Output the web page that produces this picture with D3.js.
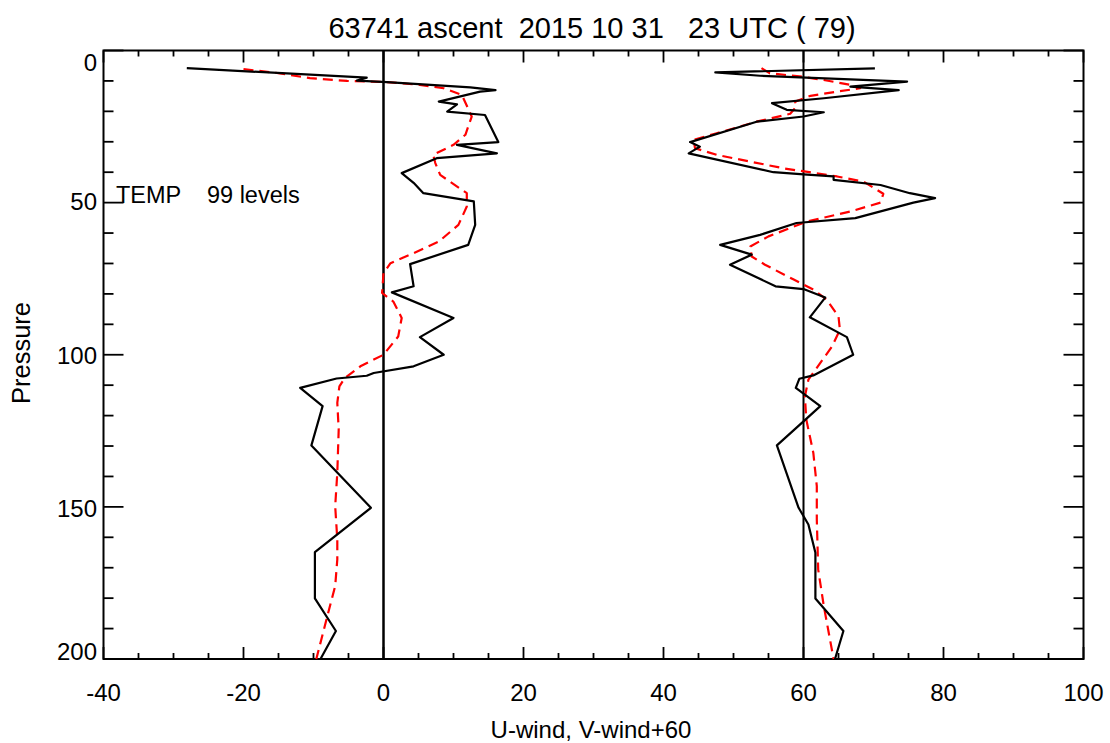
<!DOCTYPE html>
<html>
<head>
<meta charset="utf-8">
<script src="https://cdn.jsdelivr.net/npm/d3@7"></script>
<style>
  html, body { margin: 0; padding: 0; background: #fff; }
  svg { display: block; }
  text { font-family: "Liberation Sans", Arial, Helvetica, sans-serif; fill: #000; }
</style>
</head>
<body>
<script>
// Sounding 63741, 2015-10-31 23 UTC: wind profiles against pressure level index

// U-wind observed (pressure, m/s)
const uLevels = [5.8, 8.9, 9.9, 10.4, 12.1, 13.0, 13.5, 16.8, 17.7, 20.1, 21.2, 30.1, 31.0, 33.8, 35.4,
  40.3, 43.5, 46.9, 49.6, 57.3, 63.9, 70.2, 77.5, 79.5, 87.9, 94.2, 100.0, 103.8, 106.0, 106.9, 107.8,
  110.9, 116.9, 129.8, 150.3, 164.9, 180.1, 190.8, 200.0];
const uWind = [-28.1, -2.4, -3.8, 0.5, 12.4, 16.0, 13.8, 7.9, 10.5, 9.1, 14.5, 16.4, 10.5, 16.2, 7.6,
  2.6, 4.3, 5.7, 12.9, 13.1, 12.1, 3.8, 4.3, 1.2, 10.0, 5.2, 8.6, 4.3, -1.4, -2.4, -6.7,
  -11.9, -8.7, -10.3, -1.8, -9.8, -9.8, -6.8, -9.0];

// U-wind smoothed
const uSmoothLevels = [6.1, 7.5, 9.1, 10.0, 10.4, 11.3, 12.4, 14.6, 21.7, 27.7, 31.0, 34.3, 37.0, 40.9,
  46.9, 51.3, 57.3, 62.8, 66.6, 69.9, 73.2, 79.7, 82.5, 87.9, 94.0, 100.0, 103.8, 107.6, 110.4, 115.8,
  124.6, 138.8, 149.8, 160.7, 167.3, 176.0, 184.8, 200.0];
const uSmooth = [-20.0, -14.8, -10.5, -5.2, 0.5, 5.2, 8.6, 11.2, 12.6, 11.7, 10.0, 7.1, 7.4, 8.1,
  11.9, 11.9, 10.7, 7.9, 4.3, 1.0, 0.0, -0.2, 1.4, 2.6, 2.1, 0.0, -3.3, -5.5, -6.3, -6.6,
  -6.4, -6.6, -6.9, -6.6, -6.6, -6.9, -7.9, -9.6];

// V-wind observed (pressure, m/s); drawn shifted by +60
const vLevels = [5.9, 7.2, 8.3, 10.2, 11.9, 13.0, 15.7, 17.3, 19.5, 20.3, 21.7, 23.4, 30.1, 31.6, 33.8,
  40.0, 40.7, 41.4, 42.5, 44.2, 46.9, 48.5, 50.0, 55.1, 56.7, 60.6, 63.9, 67.1, 70.4, 77.5, 78.4, 81.2,
  87.7, 94.2, 100.0, 106.8, 107.9, 110.9, 116.9, 121.9, 129.8, 150.3, 155.8, 165.1, 180.1, 190.8, 200.0];
const vWind = [10.2, -12.6, -6.2, 14.8, 6.7, 13.6, 2.9, -4.5, -2.4, 2.9, 0.0, -6.7, -16.2, -14.8, -16.4,
  -4.3, 0.0, 4.3, 4.3, 11.0, 15.2, 18.8, 15.7, 7.4, -1.0, -6.2, -11.9, -7.4, -10.5, -4.0, 0.0, 3.1,
  0.9, 6.2, 7.1, 1.4, -0.6, -1.1, 2.4, 0.0, -3.8, -0.7, 0.7, 1.7, 1.7, 5.7, 4.5];

// V-wind smoothed
const vSmoothLevels = [5.8, 7.5, 8.6, 9.7, 11.3, 12.4, 13.5, 14.9, 16.8, 18.4, 20.8, 23.4, 27.2, 29.4,
  32.1, 34.3, 38.7, 41.4, 43.1, 47.1, 50.0, 52.9, 56.2, 61.1, 64.4, 67.7, 70.4, 75.3, 78.6, 81.9,
  87.4, 91.8, 97.2, 104.3, 108.2, 113.7, 121.3, 132.2, 143.2, 154.1, 170.6, 182.6, 200.0];
const vSmooth = [-6.0, -4.8, -0.2, 2.9, 6.7, 8.1, 4.8, 1.0, -1.2, -1.0, -1.9, -6.7, -12.4, -15.7,
  -15.5, -12.4, -2.9, 4.8, 8.6, 11.4, 11.0, 6.7, 0.5, -5.0, -7.6, -7.4, -5.5, -1.4, 1.4, 3.3,
  5.0, 5.2, 4.1, 1.9, 0.7, 0.2, 0.4, 1.4, 1.9, 1.9, 2.1, 2.9, 4.3];

const vOffset = 60;

const xTicks = [-40, -20, 0, 20, 40, 60, 80, 100];
const yTicks = [0, 50, 100, 150, 200];

const titleText = "63741 ascent  2015 10 31   23 UTC ( 79)";
const xTitle = "U-wind, V-wind+60";
const yTitle = "Pressure";
const noteText = "TEMP    99 levels";

(function draw() {
  const W = 1110, H = 743;
  const pl = 103.5, pr = 1083.5, pt = 50.5, pb = 659;

  const svg = d3.select("body").append("svg")
    .attr("width", W).attr("height", H);

  const x = d3.scaleLinear().domain([-40, 100]).range([pl, pr]);
  const y = d3.scaleLinear().domain([0, 200]).range([pt, pb]);

  // Ticks on all four sides, pointing inward
  const axes = svg.append("g").attr("stroke", "#000").attr("stroke-width", 1.8);
  d3.range(-40, 100.1, 5).forEach(v => {
    const len = v % 20 === 0 ? 12 : 6;
    axes.append("line").attr("x1", x(v)).attr("x2", x(v)).attr("y1", pb).attr("y2", pb - len);
    axes.append("line").attr("x1", x(v)).attr("x2", x(v)).attr("y1", pt).attr("y2", pt + len);
  });
  d3.range(0, 200.1, 10).forEach(v => {
    const len = v % 50 === 0 ? 20 : 10;
    axes.append("line").attr("y1", y(v)).attr("y2", y(v)).attr("x1", pl).attr("x2", pl + len);
    axes.append("line").attr("y1", y(v)).attr("y2", y(v)).attr("x1", pr).attr("x2", pr - len);
  });

  // Frame
  svg.append("rect")
    .attr("x", pl).attr("y", pt)
    .attr("width", pr - pl).attr("height", pb - pt)
    .attr("fill", "none").attr("stroke", "#000").attr("stroke-width", 2);

  // Tick labels
  svg.append("g").selectAll("text").data(xTicks).join("text")
    .attr("x", d => x(d)).attr("y", 701)
    .attr("text-anchor", "middle").attr("font-size", 24)
    .text(d => d);

  const yLabelPos = { 0: 70.5, 50: 209.5, 100: 363.5, 150: 516.5, 200: 659.5 };
  svg.append("g").selectAll("text").data(yTicks).join("text")
    .attr("x", 97).attr("y", d => yLabelPos[d])
    .attr("text-anchor", "end").attr("font-size", 24)
    .text(d => d);

  // Titles
  svg.append("text").attr("x", 592).attr("y", 38)
    .attr("text-anchor", "middle").attr("font-size", 29)
    .style("white-space", "pre").text(titleText);
  svg.append("text").attr("x", 591).attr("y", 737.5)
    .attr("text-anchor", "middle").attr("font-size", 24)
    .text(xTitle);
  svg.append("text").attr("transform", "translate(30,353) rotate(-90)")
    .attr("text-anchor", "middle").attr("font-size", 25.5)
    .text(yTitle);
  svg.append("text").attr("x", 116).attr("y", 203)
    .attr("font-size", 23.5).style("white-space", "pre")
    .text(noteText);

  // Reference verticals at U=0 and V+60=60
  svg.append("line").attr("x1", x(0)).attr("x2", x(0)).attr("y1", pt).attr("y2", pb)
    .attr("stroke", "#000").attr("stroke-width", 2.5);
  svg.append("line").attr("x1", x(vOffset)).attr("x2", x(vOffset)).attr("y1", pt).attr("y2", pb)
    .attr("stroke", "#000").attr("stroke-width", 2);

  const line = d3.line().x(d => x(d[0])).y(d => y(d[1]));
  const zip = (vals, levs, off) => vals.map((v, i) => [v + off, levs[i]]);

  const plot = svg.append("g").attr("fill", "none").attr("stroke-linejoin", "round");

  plot.append("path").attr("d", line(zip(uSmooth, uSmoothLevels, 0)))
    .attr("stroke", "#ff0000").attr("stroke-width", 2.2).attr("stroke-dasharray", "10,6");
  plot.append("path").attr("d", line(zip(vSmooth, vSmoothLevels, vOffset)))
    .attr("stroke", "#ff0000").attr("stroke-width", 2.2).attr("stroke-dasharray", "10,6");
  plot.append("path").attr("d", line(zip(uWind, uLevels, 0)))
    .attr("stroke", "#000").attr("stroke-width", 2.2);
  plot.append("path").attr("d", line(zip(vWind, vLevels, vOffset)))
    .attr("stroke", "#000").attr("stroke-width", 2.2);
})();
</script>
</body>
</html>
